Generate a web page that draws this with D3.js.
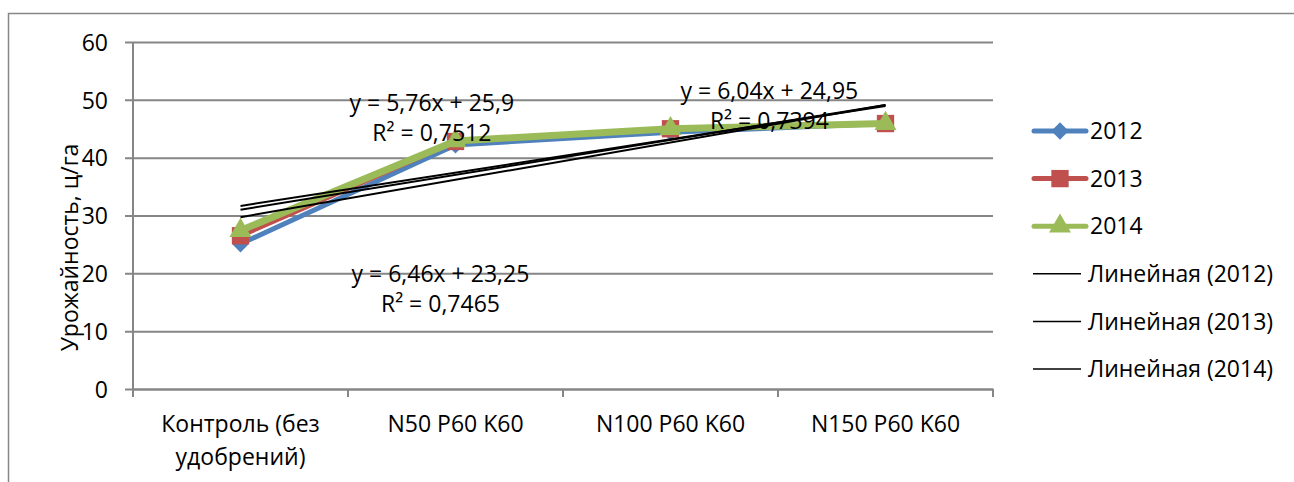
<!DOCTYPE html>
<html lang="ru">
<head>
	<meta charset="utf-8">
	<title>Урожайность</title>
	<script src="https://cdn.jsdelivr.net/npm/d3@7"></script>
	<style>
		body { margin: 0; background: #fff; }
		text { font-family: "Open Sans", "Noto Sans", sans-serif; fill: #000; }
	</style>
</head>
<body>
	<div id="chart"></div>
	<script>
		// data
		const categories = ["Контроль (без удобрений)", "N50 P60 K60", "N100 P60 K60", "N150 P60 K60"];
		const years = ["2012", "2013", "2014"];
		const yield2012 = [25.1, 42.2, 44.4, 45.9];
		const yield2013 = [26.5, 42.8, 45.0, 45.9];
		const yield2014 = [27.4, 42.9, 45.0, 45.9];
		const yTicks = [0, 10, 20, 30, 40, 50, 60];

		// trend line coefficients, as printed on the chart
		const trendSlopes = [6.46, 6.04, 5.76];
		const trendIntercepts = [23.25, 24.95, 25.9];
		const trendLabels = [
			["y = 6,46x + 23,25", "R² = 0,7465"],
			["y = 6,04x + 24,95", "R² = 0,7394"],
			["y = 5,76x + 25,9", "R² = 0,7512"]
		];
		// where each label sits (x in category units, value of first line)
		const trendLabelAt = [[1.93, 20.0], [3.46, 51.6], [1.89, 49.5]];

		const series = [yield2012, yield2013, yield2014];
		const colors = ["#4f81bd", "#c0504d", "#9bbb59"];
		const markers = [d3.symbolDiamond2, d3.symbolSquare, d3.symbolTriangle];
		const markerSizes = [190, 300, 210];
		const FS = "23px";

		const W = 1294, H = 482;
		const margin = {top: 42, right: 301, bottom: 93, left: 133};
		const width = W - margin.left - margin.right,
			height = H - margin.top - margin.bottom;

		const svg = d3.select("#chart").append("svg")
			.attr("width", W)
			.attr("height", H);

		// outer chart border (runs off the bottom and right)
		svg.append("rect")
			.attr("x", 8.5).attr("y", 13.5)
			.attr("width", W + 20).attr("height", H + 20)
			.attr("fill", "none")
			.attr("stroke", "#868686")
			.attr("stroke-width", 1.5);

		const g = svg.append("g")
			.attr("transform", "translate(" + margin.left + "," + margin.top + ")");

		const x = d3.scaleBand().domain(categories).range([0, width]);
		const y = d3.scaleLinear().domain([0, 60]).range([height, 0]);
		// numeric x for the trend lines (1..4 = category centres)
		const xn = d3.scaleLinear().domain([1, 4])
			.range([x(categories[0]) + x.bandwidth() / 2, x(categories[3]) + x.bandwidth() / 2]);

		// horizontal gridlines + y axis
		const yAxis = g.append("g")
			.call(d3.axisLeft(y).tickValues(yTicks).tickSize(-width).tickSizeOuter(0).tickPadding(25));
		yAxis.select(".domain").remove();
		yAxis.selectAll(".tick line")
			.attr("stroke", "#868686").attr("stroke-width", 2)
			.attr("x1", -8);
		yAxis.selectAll(".tick text")
			.style("font-size", FS)
			.attr("dy", "0.36em");

		g.append("line")
			.attr("x1", 0).attr("x2", 0)
			.attr("y1", 0).attr("y2", height)
			.attr("stroke", "#868686").attr("stroke-width", 2);

		// x axis
		const xAxis = g.append("g")
			.attr("transform", "translate(0," + height + ")")
			.call(d3.axisBottom(x).tickSize(0).tickPadding(0));
		xAxis.select(".domain").attr("stroke", "#868686").attr("stroke-width", 2);
		xAxis.selectAll(".tick text")
			.style("font-size", FS)
			.attr("y", 35)
			.attr("dy", "0.36em")
			.each(function(d) {
				const t = d3.select(this);
				if (d === categories[0]) {
					t.text(null);
					t.append("tspan").attr("x", 0).text("Контроль (без");
					t.append("tspan").attr("x", 0).attr("dy", 33).text("удобрений)");
				}
			});
		// tick marks between categories
		g.append("g").selectAll("line")
			.data(d3.range(categories.length + 1))
			.join("line")
			.attr("x1", i => i * x.step()).attr("x2", i => i * x.step())
			.attr("y1", height).attr("y2", height + 8)
			.attr("stroke", "#868686").attr("stroke-width", 2);

		// y axis title
		g.append("text")
			.attr("transform", "translate(-63," + (height / 2 + 32) + ") rotate(-90)")
			.attr("text-anchor", "middle")
			.attr("dy", "0.36em")
			.style("font-size", FS)
			.text("Урожайность, ц/га");

		// data lines
		const line = d3.line()
			.x((d, i) => x(categories[i]) + x.bandwidth() / 2)
			.y(d => y(d));
		const lineWidths = [5, 5, 7];

		series.forEach((s, k) => {
			g.append("path")
				.datum(s)
				.attr("fill", "none")
				.attr("stroke", colors[k])
				.attr("stroke-width", lineWidths[k])
				.attr("stroke-linejoin", "round")
				.attr("d", line);
			g.append("g").selectAll("path")
				.data(s)
				.join("path")
				.attr("transform", (d, i) => "translate(" + (x(categories[i]) + x.bandwidth() / 2) + "," + y(d) + ")")
				.attr("d", d3.symbol().type(markers[k]).size(markerSizes[k]))
				.attr("fill", colors[k]);
		});

		// trend lines
		trendSlopes.forEach((a, k) => {
			const b = trendIntercepts[k];
			g.append("line")
				.attr("x1", xn(1)).attr("y1", y(a * 1 + b))
				.attr("x2", xn(4)).attr("y2", y(a * 4 + b))
				.attr("stroke", "#000")
				.attr("stroke-width", 2);
		});

		// trend equations
		trendLabels.forEach((lbl, k) => {
			const at = trendLabelAt[k];
			const tx = xn(at[0]);
			const t = g.append("text")
				.attr("x", tx)
				.attr("y", y(at[1]))
				.attr("dy", "0.36em")
				.attr("text-anchor", "middle")
				.style("font-size", FS);
			t.append("tspan").attr("x", tx).text(lbl[0]);
			t.append("tspan").attr("x", tx).attr("dy", 30).text(lbl[1]);
		});

		// legend
		const legendNames = years.concat(years.map(yy => "Линейная (" + yy + ")"));
		const legend = svg.append("g").attr("transform", "translate(1032,131)");
		legendNames.forEach((name, i) => {
			const row = legend.append("g").attr("transform", "translate(0," + i * 47.6 + ")");
			if (i < 3) {
				row.append("line")
					.attr("x1", 2).attr("x2", 54)
					.attr("stroke", colors[i]).attr("stroke-width", 5)
					.attr("stroke-linecap", "round");
				row.append("path")
					.attr("transform", "translate(28,0)")
					.attr("d", d3.symbol().type(markers[i]).size(markerSizes[i]))
					.attr("fill", colors[i]);
			} else {
				row.append("line")
					.attr("x1", 1).attr("x2", 49)
					.attr("stroke", "#000").attr("stroke-width", 1.5);
			}
			row.append("text")
				.attr("x", i < 3 ? 58 : 56)
				.attr("dy", "0.36em")
				.style("font-size", FS)
				.text(name);
		});
	</script>
</body>
</html>
